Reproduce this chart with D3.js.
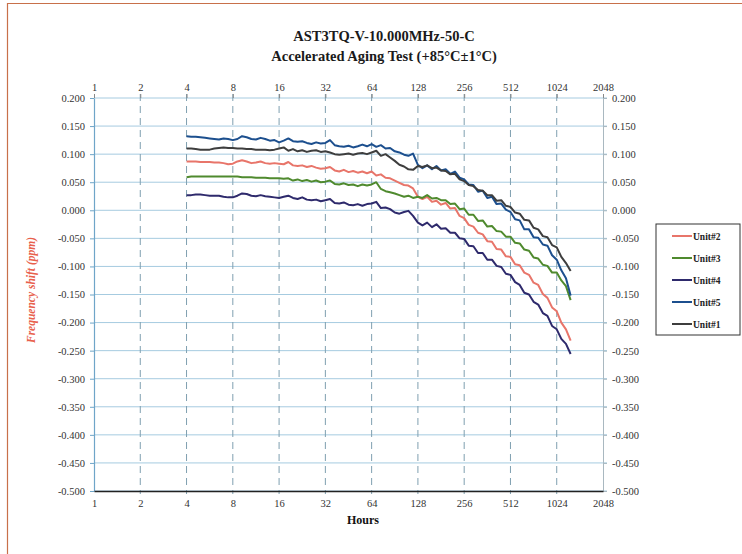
<!DOCTYPE html>
<html><head><meta charset="utf-8">
<script src="https://cdn.jsdelivr.net/npm/d3@7"></script>
<style>body{margin:0;background:#fff}svg{display:block}</style>
</head><body>
<svg id="c" width="742" height="554"></svg>
<script>
const hours = [4.00,4.29,4.59,4.92,5.28,5.66,6.06,6.50,6.96,7.46,8.00,8.57,9.19,9.85,10.56,11.31,12.13,13.00,13.93,14.93,
16.00,17.15,18.38,19.70,21.11,22.63,24.25,25.99,27.86,29.86,32.0,34.3,36.8,39.4,42.2,45.3,48.5,52.0,55.7,59.7,
64,68.6,73.5,78.8,84.4,90.5,97.0,104,111,119,128,137,147,158,169,181,194,208,223,239,
256,274,294,315,338,362,388,416,446,478,512,549,588,630,676,724,776,832,891,955,1024,1097,1176,1261];

const unit2 = [0.087,0.087,0.087,0.086,0.086,0.086,0.085,0.085,0.084,0.082,0.083,0.087,0.089,0.087,0.084,0.085,0.087,0.084,0.083,0.084,
0.083,0.082,0.086,0.080,0.079,0.080,0.077,0.079,0.076,0.074,0.075,0.077,0.071,0.069,0.072,0.068,0.070,0.067,0.069,0.066,
0.069,0.062,0.064,0.058,0.057,0.053,0.049,0.045,0.044,0.039,
0.024,0.020,0.024,0.015,0.017,0.010,0.013,0.003,0.004,-0.010,-0.014,-0.026,-0.029,-0.040,-0.043,-0.055,-0.056,-0.069,-0.070,-0.082,
-0.083,-0.096,-0.098,-0.111,-0.115,-0.129,-0.133,-0.149,-0.156,-0.173,-0.180,-0.200,-0.212,-0.232];

const unit3 = [0.059,0.060,0.060,0.060,0.060,0.060,0.060,0.060,0.060,0.060,0.060,0.060,0.059,0.059,0.059,0.058,0.058,0.058,0.057,0.057,
0.057,0.056,0.057,0.053,0.055,0.052,0.054,0.051,0.053,0.050,0.051,0.053,0.047,0.046,0.048,0.045,0.046,0.043,0.046,0.044,
0.046,0.050,0.038,0.034,0.032,0.030,0.027,0.024,0.026,0.022,
0.024,0.022,0.027,0.021,0.022,0.018,0.018,0.011,0.012,0.002,0.003,-0.008,-0.008,-0.019,-0.018,-0.029,-0.028,-0.037,-0.038,-0.047,
-0.047,-0.058,-0.059,-0.070,-0.072,-0.084,-0.086,-0.097,-0.099,-0.111,-0.111,-0.125,-0.135,-0.160];

const unit4 = [0.027,0.027,0.028,0.028,0.027,0.026,0.026,0.026,0.024,0.023,0.023,0.026,0.030,0.029,0.026,0.025,0.027,0.025,0.024,0.023,
0.022,0.024,0.026,0.022,0.020,0.023,0.019,0.018,0.019,0.016,0.018,0.020,0.013,0.012,0.014,0.010,0.009,0.011,0.008,0.011,
0.012,0.015,0.004,0.005,0.002,-0.004,-0.006,-0.003,-0.001,-0.010,
-0.022,-0.027,-0.022,-0.030,-0.025,-0.033,-0.032,-0.040,-0.040,-0.050,-0.051,-0.063,-0.064,-0.076,-0.076,-0.088,-0.088,-0.099,-0.101,-0.113,
-0.115,-0.128,-0.133,-0.147,-0.150,-0.163,-0.168,-0.183,-0.188,-0.206,-0.212,-0.229,-0.238,-0.256];

const unit5 = [0.132,0.131,0.131,0.130,0.129,0.128,0.127,0.126,0.128,0.127,0.125,0.127,0.132,0.130,0.127,0.126,0.129,0.127,0.124,0.125,
0.121,0.124,0.128,0.123,0.122,0.123,0.120,0.118,0.121,0.119,0.120,0.125,0.116,0.114,0.113,0.115,0.112,0.114,0.117,0.114,
0.118,0.113,0.116,0.110,0.111,0.105,0.103,0.099,0.097,0.101,
0.081,0.075,0.080,0.073,0.079,0.071,0.073,0.065,0.069,0.058,0.055,0.046,0.045,0.033,0.035,0.022,0.024,0.011,0.012,0.001,
-0.003,-0.016,-0.018,-0.034,-0.034,-0.048,-0.049,-0.061,-0.063,-0.080,-0.088,-0.107,-0.121,-0.152];

const unit1 = [0.110,0.110,0.109,0.108,0.108,0.108,0.110,0.111,0.112,0.111,0.111,0.110,0.110,0.109,0.109,0.108,0.108,0.108,0.107,0.108,
0.110,0.112,0.106,0.109,0.105,0.107,0.104,0.106,0.107,0.104,0.105,0.103,0.100,0.099,0.100,0.101,0.099,0.101,0.102,0.100,
0.103,0.106,0.097,0.100,0.094,0.088,0.081,0.078,0.073,0.072,
0.079,0.077,0.080,0.075,0.076,0.071,0.070,0.064,0.065,0.055,0.052,0.045,0.043,0.036,0.035,0.027,0.027,0.017,0.018,0.008,
0.006,-0.004,-0.006,-0.017,-0.018,-0.031,-0.034,-0.046,-0.048,-0.062,-0.066,-0.083,-0.094,-0.108];

const seriesNames = ["Unit#2","Unit#3","Unit#4","Unit#5","Unit#1"];
const seriesValues = [unit2, unit3, unit4, unit5, unit1];
const seriesColors = ["#e8756a","#4f8a2e","#2e2a6c","#1c4f8e","#3e3e3e"];
const xTicks = [1,2,4,8,16,32,64,128,256,512,1024,2048];
const yTicks = [0.2,0.15,0.1,0.05,0,-0.05,-0.1,-0.15,-0.2,-0.25,-0.3,-0.35,-0.4,-0.45,-0.5];

const svg = d3.select("#c");
const L=94,R=603,T=98,B=491;
const x = d3.scaleLog().base(2).domain([1,2048]).range([L,R]);
const y = d3.scaleLinear().domain([-0.5,0.2]).range([B,T]);
const serif = "'Liberation Serif','Times New Roman',serif";
const fmt = d => d.toFixed(3).replace("−","-");

// outer frame
svg.append("path").attr("d","M7.5,560 L7.5,3.5 L760,3.5").attr("fill","none").attr("stroke","#c8704a").attr("stroke-width",1.2);

// title
svg.append("text").attr("x",384).attr("y",41).attr("text-anchor","middle")
  .style("font-family",serif).style("font-weight","bold").style("font-size","14.5px").attr("fill","#1a1a1a")
  .text("AST3TQ-V-10.000MHz-50-C");
svg.append("text").attr("x",384).attr("y",61).attr("text-anchor","middle")
  .style("font-family",serif).style("font-weight","bold").style("font-size","14.5px").attr("fill","#1a1a1a")
  .text("Accelerated Aging Test (+85°C±1°C)");

// horizontal grid
svg.append("g").selectAll("line").data(yTicks).join("line")
  .attr("x1",L).attr("x2",R+4).attr("y1",d=>y(d)).attr("y2",d=>y(d))
  .attr("stroke","#a6cbe0").attr("stroke-width",1);
// vertical dashed grid
svg.append("g").selectAll("line").data(xTicks.slice(1,-1)).join("line")
  .attr("x1",d=>x(d)).attr("x2",d=>x(d)).attr("y1",T-4).attr("y2",B+3)
  .attr("stroke","#7f9fb0").attr("stroke-width",1).attr("stroke-dasharray","7,5");

// axes
const axL = svg.append("g").attr("transform",`translate(${L},0)`)
  .call(d3.axisLeft(y).tickValues(yTicks).tickFormat(fmt).tickSize(4).tickSizeOuter(0));
const axR = svg.append("g").attr("transform",`translate(${R},0)`)
  .call(d3.axisRight(y).tickValues(yTicks).tickFormat(fmt).tickSize(4).tickSizeOuter(0));
const axB = svg.append("g").attr("transform",`translate(0,${B})`)
  .call(d3.axisBottom(x).tickValues(xTicks).tickFormat(d=>d).tickSize(0).tickSizeOuter(0));
const axT = svg.append("g").attr("transform",`translate(0,${T})`)
  .call(d3.axisTop(x).tickValues(xTicks).tickFormat(d=>d).tickSize(4).tickSizeOuter(0));
[axL,axR,axB,axT].forEach(a=>{
  a.selectAll("text").style("font-family",serif).style("font-size","10.5px").attr("fill","#333");
});
axL.select(".domain").attr("stroke","#6fa5c8").attr("stroke-width",1.2);
axL.selectAll(".tick line").attr("stroke","#6fa5c8");
axR.select(".domain").attr("stroke","#a9b8c0");
axR.selectAll(".tick line").attr("stroke","#a9b8c0");
axR.selectAll("text").attr("x",9);
axL.selectAll("text").attr("x",-9);
axB.select(".domain").attr("stroke","#222").attr("stroke-width",1.3);
axB.selectAll("text").attr("y",9).attr("dy","0.71em");
axT.select(".domain").attr("stroke","none");
axT.selectAll(".tick line").attr("stroke","#888");

// axis titles
svg.append("text").attr("x",363).attr("y",524).attr("text-anchor","middle")
  .style("font-family",serif).style("font-weight","bold").style("font-size","12px").attr("fill","#111").text("Hours");
svg.append("text").attr("transform","translate(35,290) rotate(-90)").attr("text-anchor","middle")
  .style("font-family",serif).style("font-weight","bold").style("font-style","italic").style("font-size","11.5px")
  .attr("fill","#e8604c").text("Frequency shift (ppm)");

// lines
const line = d3.line().x(d=>x(d[0])).y(d=>y(d[1]));
seriesValues.forEach((vals,i)=>{
  svg.append("path").datum(hours.map((h,j)=>[h,vals[j]]))
    .attr("d",line).attr("fill","none").attr("stroke",seriesColors[i])
    .attr("stroke-width",2).attr("stroke-linejoin","round");
});

// legend
const lg = svg.append("g");
lg.append("rect").attr("x",656).attr("y",224).attr("width",84).attr("height",111)
  .attr("fill","#fff").attr("stroke","#333").attr("stroke-width",1);
seriesNames.forEach((n,i)=>{
  const yy = 236 + i*22;
  lg.append("line").attr("x1",672).attr("x2",692).attr("y1",yy).attr("y2",yy)
    .attr("stroke",seriesColors[i]).attr("stroke-width",2);
  lg.append("text").attr("x",693).attr("y",yy+3.5)
    .style("font-family",serif).style("font-weight","bold").style("font-size","9.5px").attr("fill","#222").text(n);
});
</script>
</body></html>
